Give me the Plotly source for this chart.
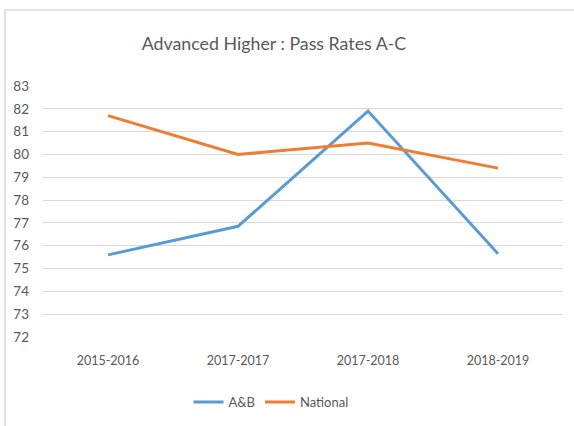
import plotly.graph_objects as go

categories = ["2015-2016", "2017-2017", "2017-2018", "2018-2019"]
ab_values = [75.6, 76.85, 81.9, 75.65]
national_values = [81.7, 80.0, 80.5, 79.4]
y_ticks = list(range(72, 84))

W, H = 574, 426
L, R, T, B = 43, 11, 86, 89
pw, ph = W - L - R, H - T - B

def px_x(x):
    return (x - L) / pw

def px_y(y):
    return (H - B - y) / ph

fig = go.Figure()
fig.add_trace(go.Scatter(x=categories, y=ab_values, name="A&B", mode="lines",
                         line=dict(color="#5B9BD5", width=3)))
fig.add_trace(go.Scatter(x=categories, y=national_values, name="National", mode="lines",
                         line=dict(color="#ED7D31", width=3)))

fig.update_layout(
    width=W, height=H,
    margin=dict(l=L, r=R, t=T, b=B, autoexpand=False),
    paper_bgcolor="white", plot_bgcolor="white",
    font=dict(family="Lato, 'Open Sans', sans-serif", color="#595959", size=12.5),
    title=dict(text="Advanced Higher : Pass Rates A-C", x=274 / W, xanchor="center",
               y=1 - 44 / H, yanchor="middle",
               font=dict(family="Lato, sans-serif", size=17.8, color="#595959")),
    xaxis=dict(type="category", range=[-0.5, 3.5], showgrid=False, zeroline=False,
               showline=False, ticks="", ticklabelstandoff=14, tickangle=0,
               automargin=False, tickfont=dict(size=12.5, color="#595959")),
    yaxis=dict(range=[72, 83], tickvals=y_ticks, showgrid=True, gridcolor="#D9D9D9",
               gridwidth=1, zeroline=False, showline=False, ticks="", automargin=False,
               ticklabelstandoff=13, tickfont=dict(size=13.5, color="#595959")),
    legend=dict(orientation="h", x=px_x(271), xanchor="center",
                y=px_y(402), yanchor="middle", font=dict(size=13, color="#595959"),
                itemwidth=30, bgcolor="rgba(0,0,0,0)"),
    shapes=[dict(type="rect", xref="paper", yref="paper",
                 x0=px_x(5), x1=px_x(585), y0=px_y(435), y1=px_y(10),
                 line=dict(color="#D9D9D9", width=1.5), fillcolor="rgba(0,0,0,0)",
                 layer="below")],
)

fig.write_html("out.html", config={"displayModeBar": False},
               post_script="document.body.style.margin='0';")
